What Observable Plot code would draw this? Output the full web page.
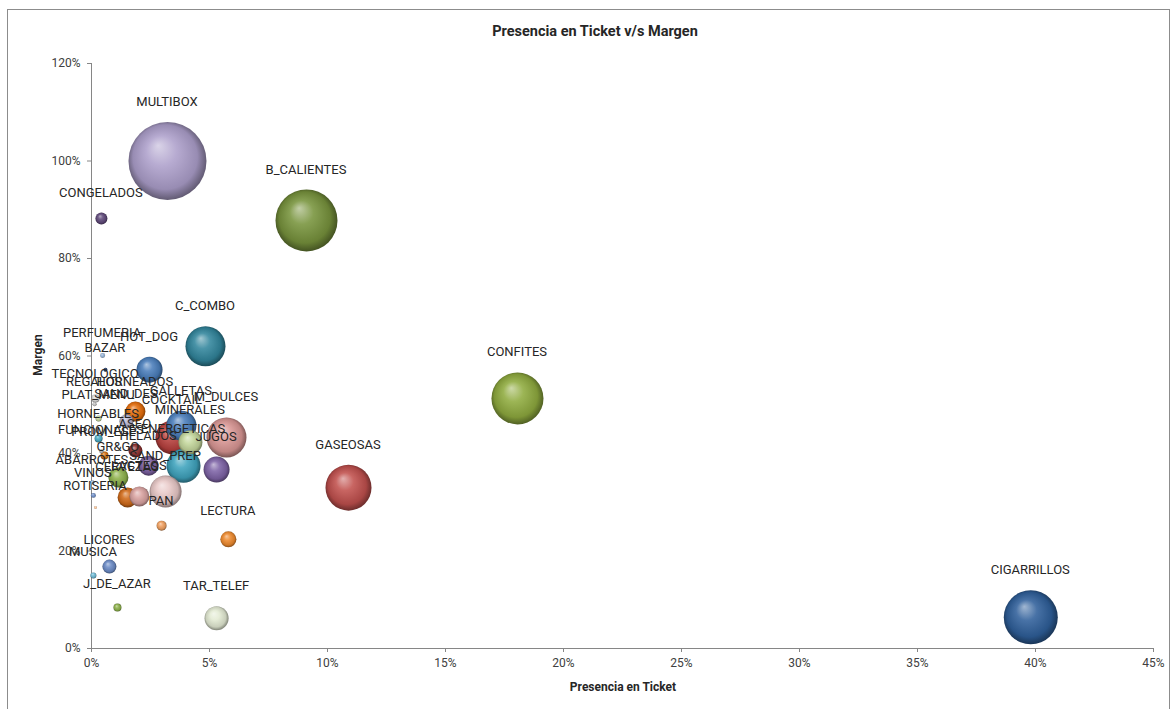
<!DOCTYPE html>
<html>
<head>
<meta charset="utf-8">
<script src="https://cdn.jsdelivr.net/npm/d3@7"></script>
<script src="https://cdn.jsdelivr.net/npm/@observablehq/plot@0.6"></script>
<style>
  html, body { margin: 0; padding: 0; background: #fff; overflow: hidden; }
  #wrap { position: relative; width: 1173px; height: 709px; font-family: Roboto, "Open Sans", sans-serif; color: #262626; }
  #frame { position: absolute; left: 7px; top: 9px; width: 1163px; height: 720px; border: 1px solid #8c8c8c; box-sizing: border-box; }
  #chart { position: absolute; left: 0; top: 0; }
  .title { position: absolute; left: 0; width: 1190px; top: 23px; text-align: center; font-weight: bold; font-size: 14.5px; }
  .xlab { position: absolute; left: 0; width: 1246px; top: 680px; text-align: center; font-weight: bold; font-size: 12px; }
  .ylab { position: absolute; left: 38px; top: 355px; transform: translate(-50%, -50%) rotate(-90deg); font-weight: bold; font-size: 12px; white-space: nowrap; }
</style>
</head>
<body>
<div id="wrap">
  <div id="frame"></div>
  <div id="chart"></div>
  <div class="title">Presencia en Ticket v/s Margen</div>
  <div class="xlab">Presencia en Ticket</div>
  <div class="ylab">Margen</div>
</div>
<script>
// ---- data (percent units) ----
const categorias = ["MULTIBOX","B_CALIENTES","CONGELADOS","C_COMBO","PERFUMERIA","HOT_DOG","BAZAR","CONFITES","TECNOLOGICO","REGALOS","HORNEADOS","SAND_DES","GALLETAS","PLAT_MENU","COCKTAIL","M_DULCES","MINERALES","HORNEABLES","ASEO","ENERGETICAS","FUNCIONALES","PROM_ESP","HELADOS","JUGOS","GR&GO","SAND_PREP","CERVEZAS","LACTEOS","ABARROTES","VINOS","ROTISERIA","PAN","GASEOSAS","LECTURA","LICORES","MUSICA","J_DE_AZAR","TAR_TELEF","CIGARRILLOS"];
const presencia = [3.22,9.11,0.42,4.83,0.47,2.46,0.59,18.05,0.17,0.13,1.86,1.48,3.81,0.30,3.43,5.72,4.19,0.30,1.86,3.90,0.42,0.55,2.42,5.30,1.14,3.14,1.53,2.03,0.04,0.08,0.17,2.97,10.89,5.80,0.76,0.08,1.10,5.30,39.8];
const margen = [100.0,87.8,88.2,62.0,60.1,57.2,57.2,51.3,51.3,50.1,48.6,46.6,45.7,47.2,43.3,43.3,42.3,43.1,40.6,37.5,40.4,39.6,37.5,36.7,35.1,32.2,31.0,31.2,34.1,31.4,28.9,25.2,33.0,22.4,16.8,15.0,8.4,6.2,6.4];
const tamano = [1521,961,36,400,6,169,4,676,16,4,100,49,225,9,289,400,144,16,49,289,4,16,100,169,100,256,100,100,4,6,2,25,529,64,49,9,16,144,729];
const xTicks = [0,5,10,15,20,25,30,35,40,45];
const yTicks = [0,20,40,60,80,100,120];

// ---- styles ----
const pointColors = ["#ad9fcb","#77933c","#5f497a","#31859c","#95b3d7","#4a7ebb","#1f3864","#8fab3e","#d9d9d9","#bfbfbf","#e46c0a","#b7b3cf","#4a7ebb","#c3d69b","#b7403d","#d99694","#c3d69b","#4bacc6","#8c2f2d","#3ea3bd","#a6a6a6","#d4700f","#7b5fa0","#7e63a6","#8db14a","#e8c8c7","#d06a18","#d9a3a1","#8eb4e3","#6f8fc8","#fac090","#f0a060","#c0504d","#ee8a2e","#6b8bc6","#6fb9d3","#8db14a","#e3ead3","#2f5f9a"];

const data = categorias.map((c, i) => ({c, x: presencia[i], y: margen[i], s: tamano[i], i}));
const pct = d => d + "%";

const chart = Plot.plot({
  width: 1173,
  height: 709,
  marginLeft: 91,
  marginRight: 20,
  marginTop: 63,
  marginBottom: 61,
  style: {fontFamily: "Roboto, 'Open Sans', sans-serif", fontSize: "12px", color: "#404040", background: "transparent"},
  x: {domain: [0, 45], axis: null},
  y: {domain: [0, 120], axis: null},
  r: {domain: [0, d3.max(tamano)], range: [0, 39]},
  color: {type: "identity"},
  marks: [
    Plot.ruleY([0], {stroke: "#868686"}),
    Plot.ruleX([0], {stroke: "#868686"}),
    Plot.tickX(xTicks, {x: d => d, frameAnchor: "bottom", stroke: "#868686", dy: 0, insetTop: 0}),
    Plot.tickY(yTicks, {y: d => d, stroke: "#868686"}),
    Plot.text(xTicks, {x: d => d, text: pct, frameAnchor: "bottom", dy: 18, fontSize: 12, fill: "#404040"}),
    Plot.text(yTicks, {y: d => d, text: pct, frameAnchor: "left", dx: -11, textAnchor: "end", fontSize: 12, fill: "#404040"}),
    Plot.dot(data, {x: "x", y: "y", r: "s", fill: d => `url(#bub${d.i})`, sort: {channel: "-r"}}),
    (index, scales) => {
      const g = d3.create("svg:g").attr("class", "bubble-labels").attr("font-size", 13).attr("fill", "#262626").attr("text-anchor", "middle");
      data.forEach(d => {
        const cx = scales.x(d.x), cy = scales.y(d.y), r = scales.r(d.s);
        g.append("text").attr("x", cx).attr("y", cy - r - 20).attr("dy", "0.35em").text(d.c);
      });
      return g.node();
    }
  ]
});

const svg = d3.select(chart);
// turn the tick marks into short outward ticks (4px)
const x0 = 91, yBase = 709 - 61;
svg.selectAll('g[aria-label="tick"] line').each(function() {
  const l = d3.select(this);
  const x1 = +l.attr("x1"), x2 = +l.attr("x2"), y1 = +l.attr("y1"), y2 = +l.attr("y2");
  if (x1 === x2) { l.attr("y1", yBase).attr("y2", yBase + 4); }
  else { l.attr("x1", x0 - 4).attr("x2", x0); }
});

// 3D shading gradients for the bubbles
const defs = svg.insert("defs", ":first-child");
pointColors.forEach((col, i) => {
  const lg = defs.append("radialGradient").attr("id", `bub${i}`)
    .attr("cx", "0.5").attr("cy", "0.5").attr("r", "0.55").attr("fx", "0.38").attr("fy", "0.3");
  const light = d3.interpolateRgb(col, "#ffffff");
  const dark = d3.interpolateRgb(col, "#000000");
  lg.append("stop").attr("offset", "0").attr("stop-color", light(0.55));
  lg.append("stop").attr("offset", "0.35").attr("stop-color", light(0.12));
  lg.append("stop").attr("offset", "0.75").attr("stop-color", dark(0.12));
  lg.append("stop").attr("offset", "1").attr("stop-color", dark(0.55));
});

document.getElementById("chart").appendChild(chart);
</script>
</body>
</html>
